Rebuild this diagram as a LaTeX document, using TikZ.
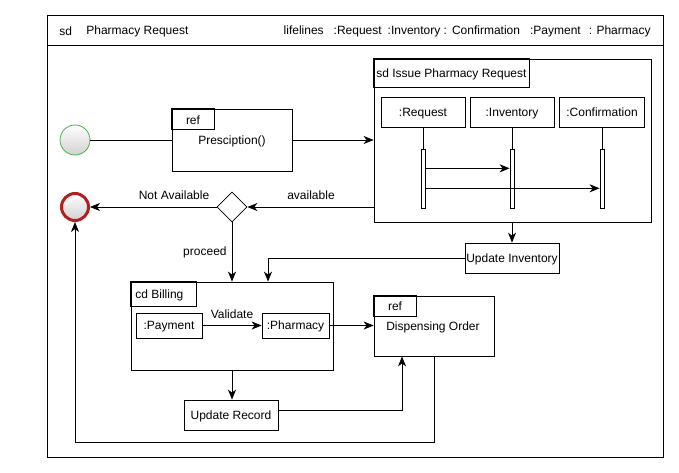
\documentclass[tikz,border=0pt]{standalone}
\usepackage{fontspec}
\setmainfont{Liberation Sans}
\usetikzlibrary{calc}
\usetikzlibrary{positioning,shapes.geometric,arrows.meta}
\definecolor{startgreen}{RGB}{70,180,70}
\definecolor{endred}{RGB}{180,30,30}

\begin{document}
\begin{tikzpicture}[x=1pt,y=-1pt,line width=0.8pt,
    font=\fontsize{12}{14}\selectfont,
    >={Stealth[length=10pt,width=8pt,inset=3pt]},
    box/.style={draw,rectangle,inner sep=0pt,text depth=0pt},
    bar/.style={draw,rectangle,inner sep=0pt,minimum width=4pt,minimum height=59pt},
    lbl/.style={inner sep=1pt}]
    \useasboundingbox (0,0) rectangle (679,473);
    % outer frame
    \draw (47,15) rectangle (663,457);
    \draw (47,45) -- (663,45);
    \node[lbl,anchor=west] (sd) at (58,31) {sd};
    \node[lbl,anchor=west] (title) at (85,31) {Pharmacy Request};
    \node[lbl,anchor=east] (lifes) at (652,31) {lifelines\hspace{10pt}:Request\hspace{6pt}:Inventory :\hspace{5pt}Confirmation\hspace{10pt}:Payment\hspace{8pt}: Pharmacy};
    % start and end
    \node[circle,draw=startgreen,top color=white,bottom color=black!18,
      minimum size=30pt,inner sep=0pt] (start) at (75,140) {};
    \node[circle,draw=endred,line width=3pt,top color=white,bottom color=black!18,
      minimum size=27pt,inner sep=0pt] (stop) at (75,207) {};
    % ref Presciption
    \node[box,minimum width=120pt,minimum height=62pt] (presc) at (232,140) {};
    \draw (presc.north west) rectangle ++(43,21);
    \node[lbl] (ref1) at (193,120) {ref};
    \node[lbl] (presctxt) at (232,141) {Presciption()};
    \draw (start) -- (presc);
    % sd Issue Pharmacy Request
    \node[box,minimum width=277pt,minimum height=163pt] (issue) at (512.5,140.5) {};
    \draw (issue.north west) rectangle ++(156,29);
    \node[lbl,anchor=west] (issuetxt) at (375,74) {sd Issue Pharmacy Request};
    \node[box,minimum width=84pt,minimum height=30pt] (req) at (423,112) {:Request};
    \node[box,minimum width=84pt,minimum height=30pt] (inv) at (512,112) {:Inventory};
    \node[box,minimum width=85pt,minimum height=30pt] (conf) at (602,112) {:Confirmation};
    \node[bar,below=22pt of req] (reqbar) {};
    \node[bar,below=22pt of inv] (invbar) {};
    \node[bar,below=22pt of conf] (confbar) {};
    \draw (req) -- (reqbar);
    \draw (inv) -- (invbar);
    \draw (conf) -- (confbar);
    \draw[->] ($(reqbar.east)+(0,-11)$) -- ($(invbar.west)+(0,-11)$);
    \draw[->] ($(reqbar.east)+(0,9)$) -- ($(confbar.west)+(0,9)$);
    \draw[->] (presc) -- (presc -| issue.west);
    % decision
    \node[diamond,draw,fill=white,minimum width=30pt,minimum height=30pt,inner sep=0pt] (dec) at (232,207) {};
    \coordinate (avail) at (issue.west |- dec);
    \draw[->] (avail) -- (dec);
    \node[lbl] (availtxt) at (311,195) {available};
    \draw[->] (dec) -- (stop);
    \node[lbl] (notavail) at (174,195) {Not Available};
    % update inventory
    \node[box,minimum width=94pt,minimum height=30pt] (updinv) at (512,258) {Update Inventory};
    \draw[->] (issue.south -| updinv) -- (updinv);
    % cd Billing
    \node[box,minimum width=202pt,minimum height=88pt] (billing) at (232,326) {};
    \draw (billing.north west) rectangle ++(66,25);
    \node[lbl,anchor=west] (billtxt) at (134,295) {cd Billing};
    \node[box,minimum width=66pt,minimum height=25pt] (pay) at (169,325.5) {:Payment};
    \node[box,minimum width=67pt,minimum height=25pt] (pharm) at (295.5,325.5) {:Pharmacy};
    \draw[->] (pay) -- (pharm) node[midway,above=5pt,lbl] (valtxt) {Validate};
    \draw[->] (dec) -- (billing) node[midway,left=4pt,lbl] (proceed) {proceed};
    \draw[->] (updinv.west) -| ($(billing.north)+(36,0)$);
    % ref Dispensing Order
    \node[box,minimum width=120pt,minimum height=60pt] (disp) at (434,326) {};
    \draw (disp.north west) rectangle ++(43,21);
    \node[lbl] (ref2) at (395,306) {ref};
    \node[lbl] (disptxt) at (433,327) {Dispensing Order};
    \draw[->] (pharm) -- (pharm -| disp.west);
    % update record
    \node[box,minimum width=94pt,minimum height=30pt] (record) at (231,415) {Update Record};
    \draw[->] (billing.south) -- (billing.south |- record.north);
    \draw[->] ([yshift=5pt]record.east) -| ($(disp.south)+(-32,0)$);
    \coordinate (loop) at (75,442);
    \draw[->] (disp.south) |- (loop) -- (stop);
\end{tikzpicture}
\end{document}
